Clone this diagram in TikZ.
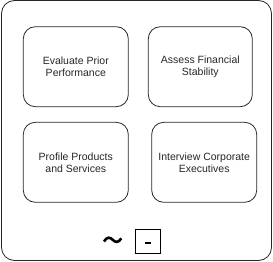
\documentclass[tikz,border=0pt]{standalone}
\usepackage{fontspec}
\setmainfont{Liberation Sans}
\begin{document}
\begin{tikzpicture}[x=1pt,y=-1pt,
  card/.style={draw=black!85,line width=0.8pt,rounded corners=12pt,
    minimum width=105pt,minimum height=80pt,inner sep=0pt,align=center,
    font=\fontsize{10.5}{12}\selectfont,text=black!85},
  frame/.style={draw=black!85,line width=0.8pt,rounded corners=13pt,
    minimum width=270pt,minimum height=260pt,inner sep=0pt},
  minusbox/.style={draw=black,line width=0.8pt,minimum width=24.5pt,
    minimum height=24pt,inner sep=0pt}]
\useasboundingbox (0,0) rectangle (273,262);
\node[frame] (outer) at (136.5,130.5) {};
\node[card] (c1) at (75.8,66.7) {Evaluate Prior\\Performance};
\node[card,minimum width=104pt] (c2) at (200.3,66.7) {Assess Financial\\Stability};
\node[card] (c3) at (75.8,162.3) {Profile Products\\and Services};
\node[card] (c4) at (204.2,162.3) {Interview Corporate\\Executives};
% tilde
\draw[line width=2.6pt,line cap=butt] (104,241.5) .. controls (107,236.5) and (110,237) .. (112.7,239.8) .. controls (115.4,242.6) and (118.5,243) .. (121.3,238.3);
% minus box
\node[minusbox] (mb) at (148,241.5) {};
\draw[line width=2pt] ([xshift=-3pt,yshift=-1.5pt]mb.center) -- ([xshift=3pt,yshift=-1.5pt]mb.center);
\end{tikzpicture}
\end{document}
